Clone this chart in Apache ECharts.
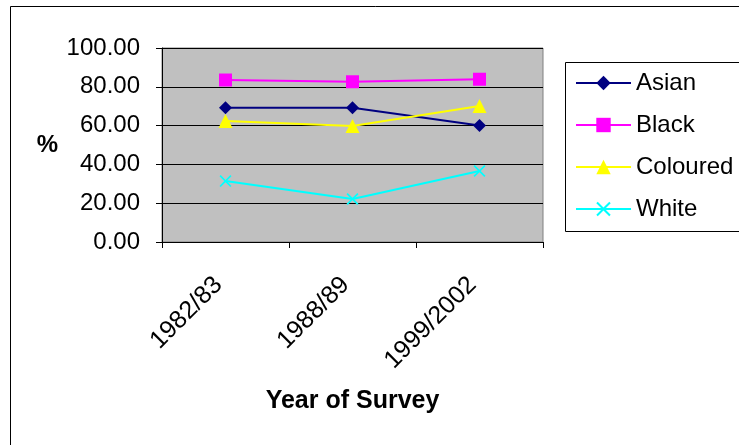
<!DOCTYPE html>
<html>
<head>
<meta charset="utf-8">
<script src="https://cdn.jsdelivr.net/npm/echarts@6/dist/echarts.min.js"></script>
<style>
  html, body { margin: 0; padding: 0; background: #fff; }
  #chart { width: 739px; height: 445px; }
</style>
</head>
<body>
<div id="chart"></div>
<script>
// Survey years and percentages by group
const categories = ['1982/83', '1988/89', '1999/2002'];
const asian = [69.2, 69.2, 60.0];
const black = [83.5, 82.6, 83.9];
const coloured = [62.4, 59.8, 70.1];
const white = [31.4, 22.2, 36.6];

const FONT = 'Arial, "Liberation Sans", sans-serif';
const CROSS = 'path://M0,1 L1,0 L5,4 L9,0 L10,1 L6,5 L10,9 L9,10 L5,6 L1,10 L0,9 L4,5 Z';

function lineSeries(name, data, color, symbol, size) {
  return {
    name: name,
    type: 'line',
    data: data,
    symbol: symbol,
    symbolSize: size,
    showAllSymbol: true,
    lineStyle: { color: color, width: 2 },
    itemStyle: { color: color, borderWidth: 0 },
    emphasis: { disabled: true },
    animation: false,
    z: 3
  };
}

const chart = echarts.init(document.getElementById('chart'), null, { renderer: 'canvas' });
chart.setOption({
  backgroundColor: '#ffffff',
  animation: false,
  textStyle: { fontFamily: FONT },
  graphic: [
    {
      type: 'rect', silent: true, z: 0,
      shape: { x: 10.5, y: 6.5, width: 760, height: 460 },
      style: { fill: 'none', stroke: '#000', lineWidth: 1 }
    },
    {
      type: 'rect', silent: true, z: 0,
      shape: { x: 565.5, y: 62.5, width: 200, height: 169 },
      style: { fill: '#fff', stroke: '#000', lineWidth: 1 }
    }
  ],
  grid: {
    left: 162, right: 196, top: 48, bottom: 203,
    show: true, backgroundColor: '#c0c0c0', borderColor: '#808080', borderWidth: 1
  },
  legend: {
    orient: 'vertical',
    left: 575, top: 71,
    padding: 0,
    itemWidth: 55, itemHeight: 18, itemGap: 18,
    textStyle: { fontSize: 24, color: '#000', fontFamily: FONT },
    data: ['Asian', 'Black', 'Coloured', 'White'],
    selectedMode: false,
    z: 5
  },
  xAxis: {
    type: 'category',
    data: categories,
    boundaryGap: true,
    name: 'Year of Survey',
    nameLocation: 'middle',
    nameGap: 147,
    nameTextStyle: { fontSize: 25, fontWeight: 'bold', color: '#000', fontFamily: FONT },
    axisLine: { lineStyle: { color: '#000', width: 1 } },
    axisTick: { show: true, length: 6, lineStyle: { color: '#000' } },
    axisLabel: {
      rotate: 45, fontSize: 25, color: '#000', margin: 32, fontFamily: FONT,
      padding: [0, 10, 0, 0]
    },
    splitLine: { show: false }
  },
  yAxis: {
    type: 'value',
    min: 0, max: 100, interval: 20,
    name: '%',
    nameLocation: 'middle',
    nameRotate: 0,
    nameGap: 104,
    nameTextStyle: { fontSize: 24, fontWeight: 'bold', color: '#000', fontFamily: FONT },
    axisLine: { show: true, lineStyle: { color: '#000', width: 1 } },
    axisTick: { show: true, length: 6, lineStyle: { color: '#000' } },
    axisLabel: {
      fontSize: 24, color: '#000', margin: 22, fontFamily: FONT,
      formatter: v => v.toFixed(2)
    },
    splitLine: { show: true, lineStyle: { color: '#000', width: 1 } }
  },
  series: [
    lineSeries('Asian', asian, '#000080', 'diamond', 13),
    lineSeries('Black', black, '#ff00ff', 'rect', 13),
    lineSeries('Coloured', coloured, '#ffff00', 'triangle', 14),
    lineSeries('White', white, '#00ffff', CROSS, 12)
  ]
});
</script>
</body>
</html>
